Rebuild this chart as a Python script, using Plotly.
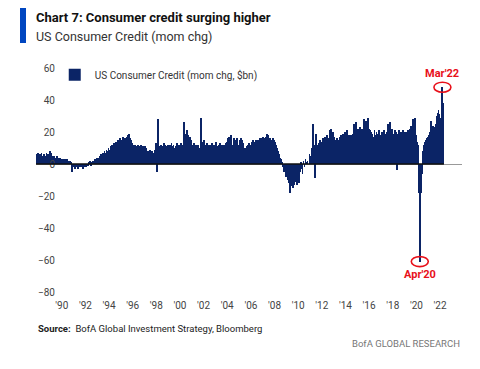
import plotly.graph_objects as go
import pandas as pd

# Monthly change in US consumer credit, $bn, Nov 1987 - Apr 2022
v1987 = [6, 7]
v1988 = [6, 5, 6, 7, 5, 6, 6, 5, 7, 6, 5, 6]
v1989 = [8, 7, 5, 4, 5, 4, 4, 5, 3, 4, 4, 3]
v1990 = [3, 3, 2, 3, 2, 3, 2, 1, 2, 1, -5, -1]
v1991 = [-2, -3, -1, -2, -3, -1, -2, 0, -2, -3, -1, -2]
v1992 = [-2, 0, -1, 1, 2, -1, 1, 2, 1, 3, 2, 4]
v1993 = [3, 4, 5, 6, 5, 7, 6, 8, 7, 9, 8, 10]
v1994 = [9, 11, 10, 12, 11, 13, 12, 14, 13, 15, 14, 16]
v1995 = [15, 14, 17, 15, 16, 14, 17, 18, 19, 16, 15, 13]
v1996 = [12, 11, 12, 10, 11, 12, 9, 11, 12, 10, 11, 9]
v1997 = [11, 10, 7, 8, 6, 9, 7, 8, 6, 7, 9, 13]
v1998 = [-5, 28, 10, 11, 12, 10, 11, 13, 12, 10, 11, 12]
v1999 = [11, 12, 10, 13, 11, 12, 10, 11, 12, 13, 11, 12]
v2000 = [12, 13, 11, 12, 26, 19, 18, 21, 18, 16, 17, 15]
v2001 = [12, 11, 13, 10, 12, 11, 12, 10, 9, 29, 14, 13]
v2002 = [15, 12, 11, 13, 12, 8, 12, 11, 13, 12, 10, 12]
v2003 = [14, 11, 10, 12, 13, 11, 12, 10, 12, 11, 13, 14]
v2004 = [16, 17, 11, 18, 12, 10, 16, 15, 14, 16, 9, 12]
v2005 = [15, 16, 14, 15, 13, 9, 10, 8, 11, 12, 13, 11]
v2006 = [12, 14, 15, 14, 13, 15, 14, 15, 14, 16, 15, 16]
v2007 = [17, 16, 15, 17, 19, 18, 15, 16, 14, 15, 16, 15]
v2008 = [14, 12, 10, 8, 6, 4, 3, 1, -2, -5, -3, -8]
v2009 = [-7, -10, -12, -18, -14, -9, -15, -13, -11, -8, -13, -9]
v2010 = [-12, -5, 1, -3, -6, 2, -2, 3, 1, 2, 0, 6]
v2011 = [5, 8, 10, 25, 12, -9, 19, 12, 11, 13, 15, 14]
v2012 = [14, 16, 13, 17, 15, 18, 16, 14, 21, 22, 18, 20]
v2013 = [17, 15, 14, 16, 15, 13, 17, 18, 16, 19, 18, 20]
v2014 = [19, 21, 17, 18, 16, 18, 17, 19, 25, 22, 26, 21]
v2015 = [22, 21, 23, 20, 22, 21, 28, 23, 27, 24, 29, 22]
v2016 = [21, 18, 20, 19, 17, 21, 18, 20, 17, 19, 21, 18]
v2017 = [17, 20, 18, 21, 19, 17, 20, 25, 24, 26, 20, 22]
v2018 = [19, 18, 21, 20, -4, 19, 21, 18, 20, 19, 21, 20]
v2019 = [18, 20, 19, 21, 17, 22, 24, 20, 28, 25, 29, 18]
v2020 = [14, 12, -18, -61, -18, -6, 8, 12, 14, 15, 16, 17]
v2021 = [18, 20, 27, 22, 24, 20, 23, 25, 30, 32, 34, 31]
v2022 = [29, 39, 48, 38]

values = (v1987 + v1988 + v1989 + v1990 + v1991 + v1992 + v1993 + v1994 + v1995 +
          v1996 + v1997 + v1998 + v1999 + v2000 + v2001 + v2002 + v2003 + v2004 +
          v2005 + v2006 + v2007 + v2008 + v2009 + v2010 + v2011 + v2012 + v2013 +
          v2014 + v2015 + v2016 + v2017 + v2018 + v2019 + v2020 + v2021 + v2022)
dates = pd.date_range("1987-11-01", periods=len(values), freq="MS") + pd.Timedelta(days=14)

tick_years = list(range(1990, 2023, 2))
tick_vals = [f"{y}-01-01" for y in tick_years]
tick_text = ["'" + str(y)[2:] for y in tick_years]
y_ticks = [60, 40, 20, 0, -20, -40, -60, -80]

callouts = [("2022-03", "Mar'22", "above"), ("2020-04", "Apr'20", "below")]

FONT = "Roboto, Liberation Sans, sans-serif"
NAVY = "#0b2466"
RED = "#e8101a"

fig = go.Figure()
fig.add_trace(go.Bar(
    x=dates, y=values, name="US Consumer Credit (mom chg, $bn)",
    marker=dict(color=NAVY, line=dict(width=0)), showlegend=True,
))

# dark baseline under the data span, light axis line beyond
fig.add_shape(type="line", xref="x", yref="y", x0=dates[0] - pd.Timedelta(days=15),
              x1=dates[-1] + pd.Timedelta(days=15), y0=0, y1=0,
              line=dict(color="#111111", width=1.6))

series = pd.Series(values, index=dates)
for key, label, pos in callouts:
    sel = series[series.index.strftime("%Y-%m") == key]
    xd, yv = sel.index[0], float(sel.iloc[0])
    fig.add_shape(type="circle", xref="x", yref="y", xsizemode="pixel", ysizemode="pixel",
                  xanchor=xd, yanchor=yv, x0=-8.5, x1=8.5, y0=-5, y1=5,
                  line=dict(color=RED, width=1.6))
    fig.add_annotation(x=xd, y=yv, xref="x", yref="y", text=label,
                       showarrow=False, yshift=14 if pos == "above" else -13,
                       font=dict(family=FONT, size=11, color=RED, weight=700))

# Title block
fig.add_shape(type="rect", xref="paper", yref="paper",
              x0=-16 / 426, x1=-10 / 426, y0=(292 - 43) / 224, y1=(292 - 5) / 224,
              fillcolor="#0046c0", line=dict(width=0))
fig.add_annotation(xref="paper", yref="paper", x=-2 / 426, y=(292 - 17) / 224,
                   xanchor="left", yanchor="middle", showarrow=False,
                   text="<b>Chart 7: Consumer credit surging higher</b>",
                   font=dict(family=FONT, size=13, color="#111111"))
fig.add_annotation(xref="paper", yref="paper", x=-2 / 426, y=(292 - 37) / 224,
                   xanchor="left", yanchor="middle", showarrow=False,
                   text="US Consumer Credit (mom chg)",
                   font=dict(family=FONT, size=12.5, color="#333333"))
fig.add_annotation(xref="paper", yref="paper", x=0 / 426, y=(292 - 328) / 224,
                   xanchor="left", yanchor="middle", showarrow=False,
                   text="<b>Source:</b>  BofA Global Investment Strategy, Bloomberg",
                   font=dict(family=FONT, size=9.5, color="#222222"))
fig.add_annotation(xref="paper", yref="paper", x=1, y=(292 - 343) / 224,
                   xanchor="right", yanchor="middle", showarrow=False,
                   text="BofA GLOBAL RESEARCH",
                   font=dict(family=FONT, size=9.5, color="#777777"))

# page body has an 8px margin, so the figure is drawn 8px in from the top-left
fig.update_layout(
    width=472, height=361,
    margin=dict(l=28, r=18, t=60, b=77, autoexpand=False),
    paper_bgcolor="white", plot_bgcolor="white",
    bargap=0,
    font=dict(family=FONT, size=10, color="#444444"),
    legend=dict(x=0.044, y=1.035, xanchor="left", yanchor="top",
                bgcolor="rgba(0,0,0,0)", font=dict(family=FONT, size=10, color="#333333"),
                itemwidth=30),
)
fig.update_xaxes(type="date", range=["1987-10-28", "2023-11-10"], automargin=False,
                 tickvals=tick_vals, ticktext=tick_text, showgrid=False,
                 showline=False, ticks="", ticklabelstandoff=6,
                 tickfont=dict(size=10, color="#444444"))
fig.update_yaxes(range=[-80, 60], tickvals=y_ticks, showgrid=False, zeroline=True,
                 zerolinecolor="#999999", zerolinewidth=1, showline=False, ticks="",
                 automargin=False,
                 ticklabelstandoff=-20, tickfont=dict(size=10, color="#444444"))

fig.write_html("out.html")
